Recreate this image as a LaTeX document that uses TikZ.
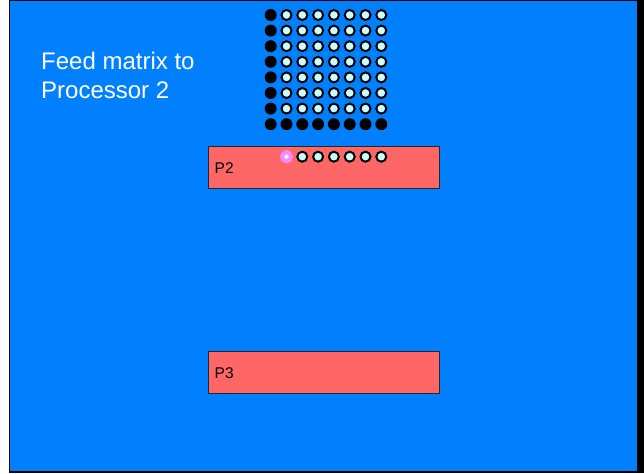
\documentclass[tikz,border=0pt]{standalone}
\usepackage{fontspec}
\setmainfont{Liberation Sans}
\usepackage{xcolor}
\usepackage{tikz}

\definecolor{slide}{HTML}{0080FF}
\definecolor{proc}{HTML}{FF6666}
\definecolor{cell}{HTML}{CCFFFF}
\definecolor{hot}{HTML}{FF88FF}

\begin{document}
\begin{tikzpicture}[x=1pt, y=-1pt]
\tikzset{
  pbox/.style={draw=black!85, fill=proc, line width=1pt, minimum width=231pt, minimum height=42pt, inner sep=0pt, anchor=north west},
  plab/.style={anchor=west, inner sep=0pt, font=\fontsize{15.5}{18}\selectfont},
  fed/.style={circle, fill=black, minimum size=12pt, inner sep=0pt},
  wait/.style={circle, draw=black, fill=cell, line width=2pt, minimum size=10pt, inner sep=0pt},
  hotdot/.style={circle, draw=hot, fill=cell, line width=4pt, minimum size=9pt, inner sep=0pt},
}
\useasboundingbox (0,0) rectangle (644,473);
% slide background
\fill[black] (8.5,0) rectangle (644,473);
\fill[slide] (10.3,1) rectangle (637.3,470.5);

\node[anchor=north west, inner sep=0pt, align=left, text=white, font=\fontsize{24}{29.4}\selectfont] (title) at (41,51.5) {Feed matrix to\\Processor 2};

% the matrix
\foreach \r in {0,...,7}{
  \foreach \c in {0,...,7}{
    \pgfmathtruncatemacro\isfed{(\c==0)||(\r==7)}
    \ifnum\isfed=1
      \node[fed] (m-\r-\c) at (270.7+15.8*\c, 15+15.6*\r) {};
    \else
      \node[wait] (m-\r-\c) at (270.7+15.8*\c, 15+15.6*\r) {};
    \fi
  }
}

% processors
\node[pbox] (p2) at (208,146) {};
\node[plab] (p2-name) at ([xshift=6.5pt,yshift=-1pt]p2.west) {P2};
\node[pbox] (p3) at (208,351) {};
\node[plab] (p3-name) at ([xshift=6.5pt,yshift=-1pt]p3.west) {P3};

% row being fed to P2
\node[hotdot] (p2-1) at (270.7+15.8, 156.7) {};
\foreach \c in {2,...,7}
  \node[wait] (p2-\c) at (270.7+15.8*\c, 156.7) {};
\end{tikzpicture}
\end{document}
